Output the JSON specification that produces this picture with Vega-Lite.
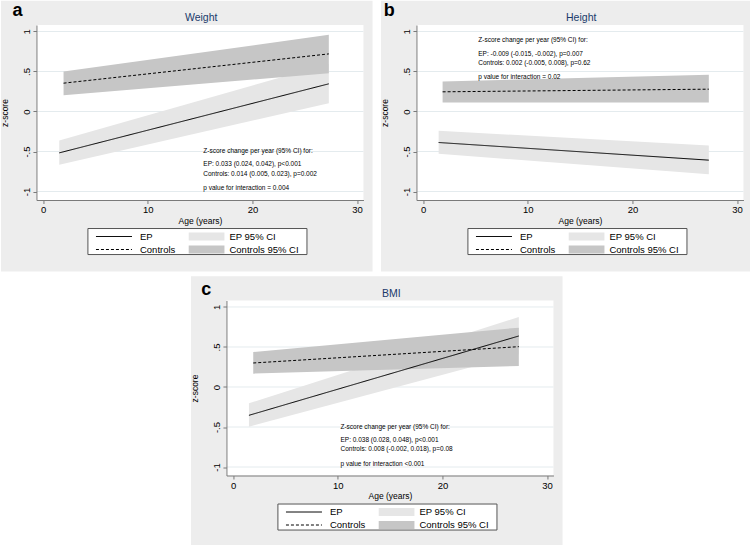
{
  "$schema": "https://vega.github.io/schema/vega-lite/v6.json",
  "padding": 0,
  "background": "#ffffff",
  "spacing": 3.5,
  "center": true,
  "resolve": {"scale": {"color": "independent", "strokeDash": "independent"}, "legend": {"color": "independent", "strokeDash": "independent"}},
  "vconcat": [
    {
      "hconcat": [
        {
          "width": 327, "height": 175,
          "data": {"values": [
            {"series": "EP", "age": 1.53, "z": -0.517},
            {"series": "EP", "age": 27.3, "z": 0.346},
            {"series": "Controls", "age": 1.94, "z": 0.354},
            {"series": "Controls", "age": 27.3, "z": 0.72},
            {"series": "EP 95% CI", "age": 1.53, "lo": -0.667, "hi": -0.3625},
            {"series": "EP 95% CI", "age": 27.3, "lo": 0.104, "hi": 0.596},
            {"series": "Controls 95% CI", "age": 1.94, "lo": 0.204, "hi": 0.5},
            {"series": "Controls 95% CI", "age": 27.3, "lo": 0.479, "hi": 0.958}
          ]},
          "layer": [
            {"data": {"values": [{}]}, "mark": {"type": "rect", "fill": "#ededed"},
             "encoding": {
               "x": {"datum": -4.04, "type": "quantitative", "scale": {"domain": [-0.65, 30.61], "nice": false, "zero": false}, "axis": {"values": [0, 10, 20, 30], "title": "Age (years)", "zindex": 1}},
               "x2": {"datum": 31.48},
               "y": {"datum": 1.385, "type": "quantitative", "scale": {"domain": [-1.106, 1.081], "nice": false, "zero": false}, "axis": {"values": [-1, -0.5, 0, 0.5, 1], "title": "z-score", "zindex": 1, "labelExpr": "datum.value == 1 ? '1' : datum.value == 0.5 ? '.5' : datum.value == 0 ? '0' : datum.value == -0.5 ? '-.5' : '-1'"}},
               "y2": {"datum": -2.0}}},
            {"data": {"values": [{}]}, "mark": {"type": "rect", "fill": "#ffffff"},
             "encoding": {"x": {"datum": -0.65, "type": "quantitative"}, "x2": {"datum": 30.61}, "y": {"datum": 1.081, "type": "quantitative"}, "y2": {"datum": -1.106}}},
            {"data": {"values": [{"g": -1}, {"g": -0.5}, {"g": 0}, {"g": 0.5}, {"g": 1}]}, "mark": {"type": "rule", "color": "#e4ebee", "strokeWidth": 1},
             "encoding": {"y": {"field": "g", "type": "quantitative"}}},
            {"transform": [{"filter": "datum.series == 'EP 95% CI'"}], "mark": {"type": "area", "opacity": 1},
             "encoding": {"x": {"field": "age", "type": "quantitative"}, "y": {"field": "lo", "type": "quantitative"}, "y2": {"field": "hi"},
               "color": {"field": "series", "type": "nominal",
                 "scale": {"domain": ["EP 95% CI", "Controls 95% CI"], "range": ["#e6e6e6", "#c6c6c6"]},
                 "legend": {"title": null, "orient": "none", "legendX": 152, "legendY": 206.5, "direction": "vertical", "symbolType": "M-1,-0.22H1V0.22H-1Z", "symbolStrokeWidth": 0, "labelOffset": 5, "symbolOpacity": 1}}}},
            {"transform": [{"filter": "datum.series == 'Controls 95% CI'"}], "mark": {"type": "area", "fill": "#c6c6c6", "opacity": 1},
             "encoding": {"x": {"field": "age", "type": "quantitative"}, "y": {"field": "lo", "type": "quantitative"}, "y2": {"field": "hi"}}},
            {"transform": [{"filter": "datum.series == 'EP' || datum.series == 'Controls'"}], "mark": {"type": "line", "color": "#000000", "strokeWidth": 1},
             "encoding": {"x": {"field": "age", "type": "quantitative"}, "y": {"field": "z", "type": "quantitative"},
               "strokeDash": {"field": "series", "type": "nominal",
                 "scale": {"domain": ["EP", "Controls"], "range": [[1, 0], [3, 2]]},
                 "legend": {"title": null, "orient": "none", "legendX": 59, "legendY": 206.5, "direction": "vertical", "symbolType": "M-1,0H1", "symbolStrokeColor": "#000000", "symbolStrokeWidth": 1, "labelOffset": 7.5}}}},
            {"data": {"values": [
               {"age": 15.3, "z": -0.496, "label": "Z-score change per year (95% CI) for:"},
               {"age": 15.3, "z": -0.662, "label": "EP: 0.033 (0.024, 0.042), p<0.001"},
               {"age": 15.3, "z": -0.775, "label": "Controls: 0.014 (0.005, 0.023), p=0.002"},
               {"age": 15.3, "z": -0.958, "label": "p value for interaction = 0.004"}]},
             "mark": {"type": "text", "align": "left", "baseline": "middle", "fontSize": 6.5, "color": "#000000"},
             "encoding": {"x": {"field": "age", "type": "quantitative"}, "y": {"field": "z", "type": "quantitative"}, "text": {"field": "label"}}},
            {"data": {"values": [{}]}, "mark": {"type": "rect", "fill": "#ffffff", "stroke": "#555555", "strokeWidth": 1},
             "encoding": {"x": {"datum": 4.27, "type": "quantitative"}, "x2": {"datum": 25.21}, "y": {"datum": -1.4625, "type": "quantitative"}, "y2": {"datum": -1.7875}}},
            {"data": {"values": [{}]}, "mark": {"type": "text", "fontSize": 18, "fontWeight": "bold", "align": "center", "baseline": "alphabetic", "color": "#000000"},
             "encoding": {"x": {"datum": -2.45, "type": "quantitative"}, "y": {"datum": 1.194, "type": "quantitative"}, "text": {"value": "a"}}},
            {"data": {"values": [{}]}, "mark": {"type": "text", "fontSize": 10.5, "align": "center", "baseline": "alphabetic", "color": "#1a3a6b"},
             "encoding": {"x": {"datum": 15.1, "type": "quantitative"}, "y": {"datum": 1.127, "type": "quantitative"}, "text": {"value": "Weight"}}}
          ]
        },
        {
          "width": 327, "height": 175,
          "data": {"values": [
            {"series": "EP", "age": 1.47, "z": -0.3875},
            {"series": "EP", "age": 27.3, "z": -0.608},
            {"series": "Controls", "age": 1.85, "z": 0.246},
            {"series": "Controls", "age": 27.3, "z": 0.279},
            {"series": "EP 95% CI", "age": 1.47, "lo": -0.529, "hi": -0.242},
            {"series": "EP 95% CI", "age": 27.3, "lo": -0.783, "hi": -0.425},
            {"series": "Controls 95% CI", "age": 1.85, "lo": 0.1125, "hi": 0.375},
            {"series": "Controls 95% CI", "age": 27.3, "lo": 0.1125, "hi": 0.458}
          ]},
          "layer": [
            {"data": {"values": [{}]}, "mark": {"type": "rect", "fill": "#ededed"},
             "encoding": {
               "x": {"datum": -4.04, "type": "quantitative", "scale": {"domain": [-0.65, 30.61], "nice": false, "zero": false}, "axis": {"values": [0, 10, 20, 30], "title": "Age (years)", "zindex": 1}},
               "x2": {"datum": 31.48},
               "y": {"datum": 1.385, "type": "quantitative", "scale": {"domain": [-1.106, 1.081], "nice": false, "zero": false}, "axis": {"values": [-1, -0.5, 0, 0.5, 1], "title": "z-score", "zindex": 1, "labelExpr": "datum.value == 1 ? '1' : datum.value == 0.5 ? '.5' : datum.value == 0 ? '0' : datum.value == -0.5 ? '-.5' : '-1'"}},
               "y2": {"datum": -2.0}}},
            {"data": {"values": [{}]}, "mark": {"type": "rect", "fill": "#ffffff"},
             "encoding": {"x": {"datum": -0.65, "type": "quantitative"}, "x2": {"datum": 30.61}, "y": {"datum": 1.081, "type": "quantitative"}, "y2": {"datum": -1.106}}},
            {"data": {"values": [{"g": -1}, {"g": -0.5}, {"g": 0}, {"g": 0.5}, {"g": 1}]}, "mark": {"type": "rule", "color": "#e4ebee", "strokeWidth": 1},
             "encoding": {"y": {"field": "g", "type": "quantitative"}}},
            {"transform": [{"filter": "datum.series == 'EP 95% CI'"}], "mark": {"type": "area", "opacity": 1},
             "encoding": {"x": {"field": "age", "type": "quantitative"}, "y": {"field": "lo", "type": "quantitative"}, "y2": {"field": "hi"},
               "color": {"field": "series", "type": "nominal",
                 "scale": {"domain": ["EP 95% CI", "Controls 95% CI"], "range": ["#e6e6e6", "#c6c6c6"]},
                 "legend": {"title": null, "orient": "none", "legendX": 152, "legendY": 206.5, "direction": "vertical", "symbolType": "M-1,-0.22H1V0.22H-1Z", "symbolStrokeWidth": 0, "labelOffset": 5, "symbolOpacity": 1}}}},
            {"transform": [{"filter": "datum.series == 'Controls 95% CI'"}], "mark": {"type": "area", "fill": "#c6c6c6", "opacity": 1},
             "encoding": {"x": {"field": "age", "type": "quantitative"}, "y": {"field": "lo", "type": "quantitative"}, "y2": {"field": "hi"}}},
            {"transform": [{"filter": "datum.series == 'EP' || datum.series == 'Controls'"}], "mark": {"type": "line", "color": "#000000", "strokeWidth": 1},
             "encoding": {"x": {"field": "age", "type": "quantitative"}, "y": {"field": "z", "type": "quantitative"},
               "strokeDash": {"field": "series", "type": "nominal",
                 "scale": {"domain": ["EP", "Controls"], "range": [[1, 0], [3, 2]]},
                 "legend": {"title": null, "orient": "none", "legendX": 59, "legendY": 206.5, "direction": "vertical", "symbolType": "M-1,0H1", "symbolStrokeColor": "#000000", "symbolStrokeWidth": 1, "labelOffset": 7.5}}}},
            {"data": {"values": [
               {"age": 5.26, "z": 0.8875, "label": "Z-score change per year (95% CI) for:"},
               {"age": 5.26, "z": 0.722, "label": "EP: -0.009 (-0.015, -0.002), p=0.007"},
               {"age": 5.26, "z": 0.607, "label": "Controls: 0.002 (-0.005, 0.008), p=0.62"},
               {"age": 5.26, "z": 0.435, "label": "p value for interaction = 0.02"}]},
             "mark": {"type": "text", "align": "left", "baseline": "middle", "fontSize": 6.5, "color": "#000000"},
             "encoding": {"x": {"field": "age", "type": "quantitative"}, "y": {"field": "z", "type": "quantitative"}, "text": {"field": "label"}}},
            {"data": {"values": [{}]}, "mark": {"type": "rect", "fill": "#ffffff", "stroke": "#555555", "strokeWidth": 1},
             "encoding": {"x": {"datum": 4.27, "type": "quantitative"}, "x2": {"datum": 25.21}, "y": {"datum": -1.4625, "type": "quantitative"}, "y2": {"datum": -1.7875}}},
            {"data": {"values": [{}]}, "mark": {"type": "text", "fontSize": 18, "fontWeight": "bold", "align": "center", "baseline": "alphabetic", "color": "#000000"},
             "encoding": {"x": {"datum": -3.25, "type": "quantitative"}, "y": {"datum": 1.19, "type": "quantitative"}, "text": {"value": "b"}}},
            {"data": {"values": [{}]}, "mark": {"type": "text", "fontSize": 10.5, "align": "center", "baseline": "alphabetic", "color": "#1a3a6b"},
             "encoding": {"x": {"datum": 15.1, "type": "quantitative"}, "y": {"datum": 1.127, "type": "quantitative"}, "text": {"value": "Height"}}}
          ]
        }
      ],
      "spacing": 7,
      "resolve": {"scale": {"color": "independent", "strokeDash": "independent"}, "legend": {"color": "independent", "strokeDash": "independent"}}
    },
    {
      "width": 327, "height": 175,
      "data": {"values": [
        {"series": "EP", "age": 1.5, "z": -0.354},
        {"series": "EP", "age": 27.3, "z": 0.6375},
        {"series": "Controls", "age": 1.91, "z": 0.3},
        {"series": "Controls", "age": 27.3, "z": 0.504},
        {"series": "EP 95% CI", "age": 1.5, "lo": -0.496, "hi": -0.204},
        {"series": "EP 95% CI", "age": 27.3, "lo": 0.408, "hi": 0.875},
        {"series": "Controls 95% CI", "age": 1.91, "lo": 0.167, "hi": 0.4375},
        {"series": "Controls 95% CI", "age": 27.3, "lo": 0.2625, "hi": 0.742}
      ]},
      "layer": [
        {"data": {"values": [{}]}, "mark": {"type": "rect", "fill": "#ededed"},
         "encoding": {
           "x": {"datum": -4.04, "type": "quantitative", "scale": {"domain": [-0.65, 30.61], "nice": false, "zero": false}, "axis": {"values": [0, 10, 20, 30], "title": "Age (years)", "zindex": 1}},
           "x2": {"datum": 31.48},
           "y": {"datum": 1.385, "type": "quantitative", "scale": {"domain": [-1.106, 1.081], "nice": false, "zero": false}, "axis": {"values": [-1, -0.5, 0, 0.5, 1], "title": "z-score", "zindex": 1, "labelExpr": "datum.value == 1 ? '1' : datum.value == 0.5 ? '.5' : datum.value == 0 ? '0' : datum.value == -0.5 ? '-.5' : '-1'"}},
           "y2": {"datum": -2.0}}},
        {"data": {"values": [{}]}, "mark": {"type": "rect", "fill": "#ffffff"},
         "encoding": {"x": {"datum": -0.65, "type": "quantitative"}, "x2": {"datum": 30.61}, "y": {"datum": 1.081, "type": "quantitative"}, "y2": {"datum": -1.106}}},
        {"data": {"values": [{"g": -1}, {"g": -0.5}, {"g": 0}, {"g": 0.5}, {"g": 1}]}, "mark": {"type": "rule", "color": "#e4ebee", "strokeWidth": 1},
         "encoding": {"y": {"field": "g", "type": "quantitative"}}},
        {"transform": [{"filter": "datum.series == 'EP 95% CI'"}], "mark": {"type": "area", "opacity": 1},
         "encoding": {"x": {"field": "age", "type": "quantitative"}, "y": {"field": "lo", "type": "quantitative"}, "y2": {"field": "hi"},
           "color": {"field": "series", "type": "nominal",
             "scale": {"domain": ["EP 95% CI", "Controls 95% CI"], "range": ["#e6e6e6", "#c6c6c6"]},
             "legend": {"title": null, "orient": "none", "legendX": 152, "legendY": 206.5, "direction": "vertical", "symbolType": "M-1,-0.22H1V0.22H-1Z", "symbolStrokeWidth": 0, "labelOffset": 5, "symbolOpacity": 1}}}},
        {"transform": [{"filter": "datum.series == 'Controls 95% CI'"}], "mark": {"type": "area", "fill": "#c6c6c6", "opacity": 1},
         "encoding": {"x": {"field": "age", "type": "quantitative"}, "y": {"field": "lo", "type": "quantitative"}, "y2": {"field": "hi"}}},
        {"transform": [{"filter": "datum.series == 'EP' || datum.series == 'Controls'"}], "mark": {"type": "line", "color": "#000000", "strokeWidth": 1},
         "encoding": {"x": {"field": "age", "type": "quantitative"}, "y": {"field": "z", "type": "quantitative"},
           "strokeDash": {"field": "series", "type": "nominal",
             "scale": {"domain": ["EP", "Controls"], "range": [[1, 0], [3, 2]]},
             "legend": {"title": null, "orient": "none", "legendX": 59, "legendY": 206.5, "direction": "vertical", "symbolType": "M-1,0H1", "symbolStrokeColor": "#000000", "symbolStrokeWidth": 1, "labelOffset": 7.5}}}},
        {"data": {"values": [
           {"age": 10.25, "z": -0.496, "label": "Z-score change per year (95% CI) for:"},
           {"age": 10.25, "z": -0.662, "label": "EP: 0.038 (0.028, 0.048), p<0.001"},
           {"age": 10.25, "z": -0.775, "label": "Controls: 0.008 (-0.002, 0.018), p=0.08"},
           {"age": 10.25, "z": -0.958, "label": "p value for interaction <0.001"}]},
         "mark": {"type": "text", "align": "left", "baseline": "middle", "fontSize": 6.5, "color": "#000000"},
         "encoding": {"x": {"field": "age", "type": "quantitative"}, "y": {"field": "z", "type": "quantitative"}, "text": {"field": "label"}}},
        {"data": {"values": [{}]}, "mark": {"type": "rect", "fill": "#ffffff", "stroke": "#555555", "strokeWidth": 1},
         "encoding": {"x": {"datum": 4.27, "type": "quantitative"}, "x2": {"datum": 25.21}, "y": {"datum": -1.4625, "type": "quantitative"}, "y2": {"datum": -1.7875}}},
        {"data": {"values": [{}]}, "mark": {"type": "text", "fontSize": 18, "fontWeight": "bold", "align": "center", "baseline": "alphabetic", "color": "#000000"},
         "encoding": {"x": {"datum": -2.59, "type": "quantitative"}, "y": {"datum": 1.145, "type": "quantitative"}, "text": {"value": "c"}}},
        {"data": {"values": [{}]}, "mark": {"type": "text", "fontSize": 10.5, "align": "center", "baseline": "alphabetic", "color": "#1a3a6b"},
         "encoding": {"x": {"datum": 15.1, "type": "quantitative"}, "y": {"datum": 1.127, "type": "quantitative"}, "text": {"value": "BMI"}}}
      ]
    }
  ],
  "config": {
    "font": "Liberation Sans",
    "view": {"stroke": null},
    "axis": {"zindex": 1, "grid": false, "domainColor": "#7a7a7a", "tickColor": "#7a7a7a", "labelColor": "#000000", "titleColor": "#000000", "labelFontSize": 9.5, "titleFontSize": 8.5, "titleFontWeight": "normal", "tickSize": 3.5, "labelFont": "Liberation Sans", "titleFont": "Liberation Sans"},
    "axisX": {"labelPadding": 1, "titlePadding": 2},
    "axisY": {"labelAngle": 270, "labelPadding": 1, "titlePadding": 12},
    "legend": {"symbolSize": 1296, "clipHeight": 10, "rowPadding": 3, "symbolOffset": 0, "padding": 0, "labelFontSize": 9.5, "labelColor": "#000000", "labelFont": "Liberation Sans", "labelLimit": 200}
  }
}
